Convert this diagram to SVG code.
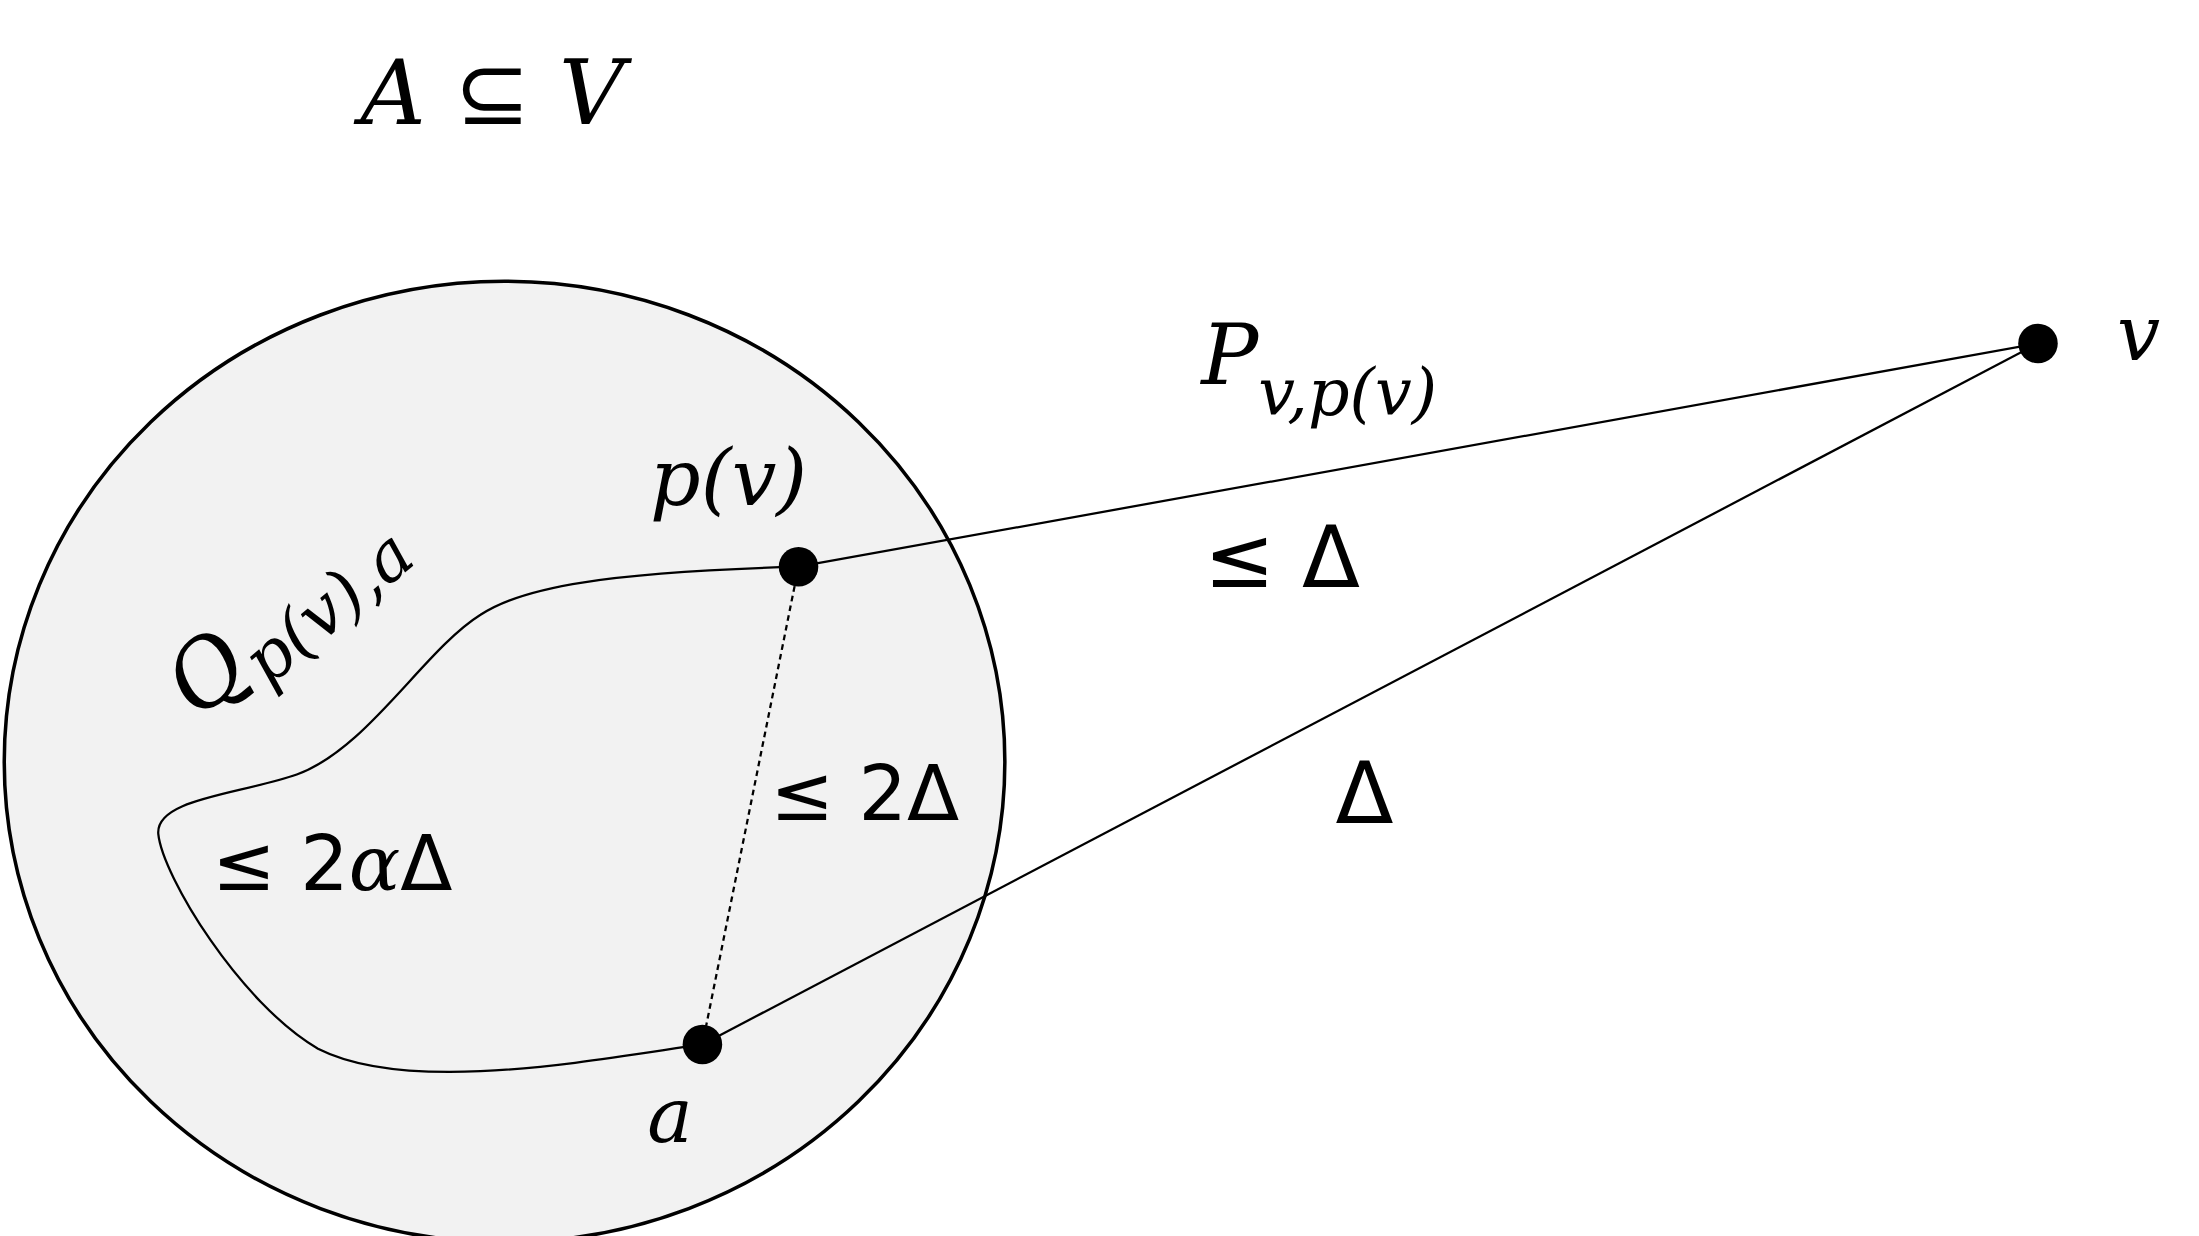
<svg xmlns="http://www.w3.org/2000/svg" width="2199" height="1236" viewBox="0 0 2199 1236">
<style>
.t{font-family:"DejaVu Serif","Liberation Serif",serif;font-style:italic;fill:#000}
.u{font-family:"DejaVu Sans","Liberation Sans",sans-serif;fill:#000}
.ln{fill:none;stroke:#000;stroke-width:1.6}
</style>
<rect width="2199" height="1236" fill="#fff"/>
<g transform="scale(1.4133)">
<g id="region"><ellipse cx="357" cy="539" rx="354" ry="340" fill="#f2f2f2" stroke="#000" stroke-width="2.5"/></g>
<g id="connectors">
<path class="ln" d="M565,401 C430,405 370,415 340,435 C300,460 260,530 210,548 C170,562 110,565 112,590 C115,620 170,710 225,742 C290,775 420,750 497,739"/>
<line class="ln" x1="565" y1="401" x2="1442" y2="243"/>
<line class="ln" x1="497" y1="739" x2="1442" y2="243"/>
<line class="ln" x1="565" y1="401" x2="497" y2="739" stroke-dasharray="4,3"/>
</g>
<g id="node-pv"><circle cx="565" cy="401" r="14"/></g>
<g id="node-a"><circle cx="497" cy="739" r="14"/></g>
<g id="node-v"><circle cx="1442" cy="243" r="14"/></g>
<g id="labels">
<text class="t" x="255" y="88" font-size="64">A <tspan class="u" font-style="normal">⊆</tspan> V</text>
<text class="t" x="1498" y="255" font-size="54">v</text>
<text class="t" x="850" y="272" font-size="60">P<tspan font-size="46" dy="22">v,p(v)</tspan></text>
<text class="t" x="460" y="357" font-size="56">p(v)</text>
<text class="u" x="852" y="415" font-size="60">≤ Δ</text>
<text class="u" x="945" y="582" font-size="60">Δ</text>
<text class="u" x="545" y="580" font-size="54">≤ 2Δ</text>
<text class="u" x="150" y="630" font-size="54">≤ 2<tspan class="t">α</tspan>Δ</text>
<text class="t" x="458" y="808" font-size="54">a</text>
<text class="t" transform="translate(140,510) rotate(-40)" font-size="64">Q<tspan font-size="48" dy="14">p(v),a</tspan></text>
</g>
</g>
</svg>
